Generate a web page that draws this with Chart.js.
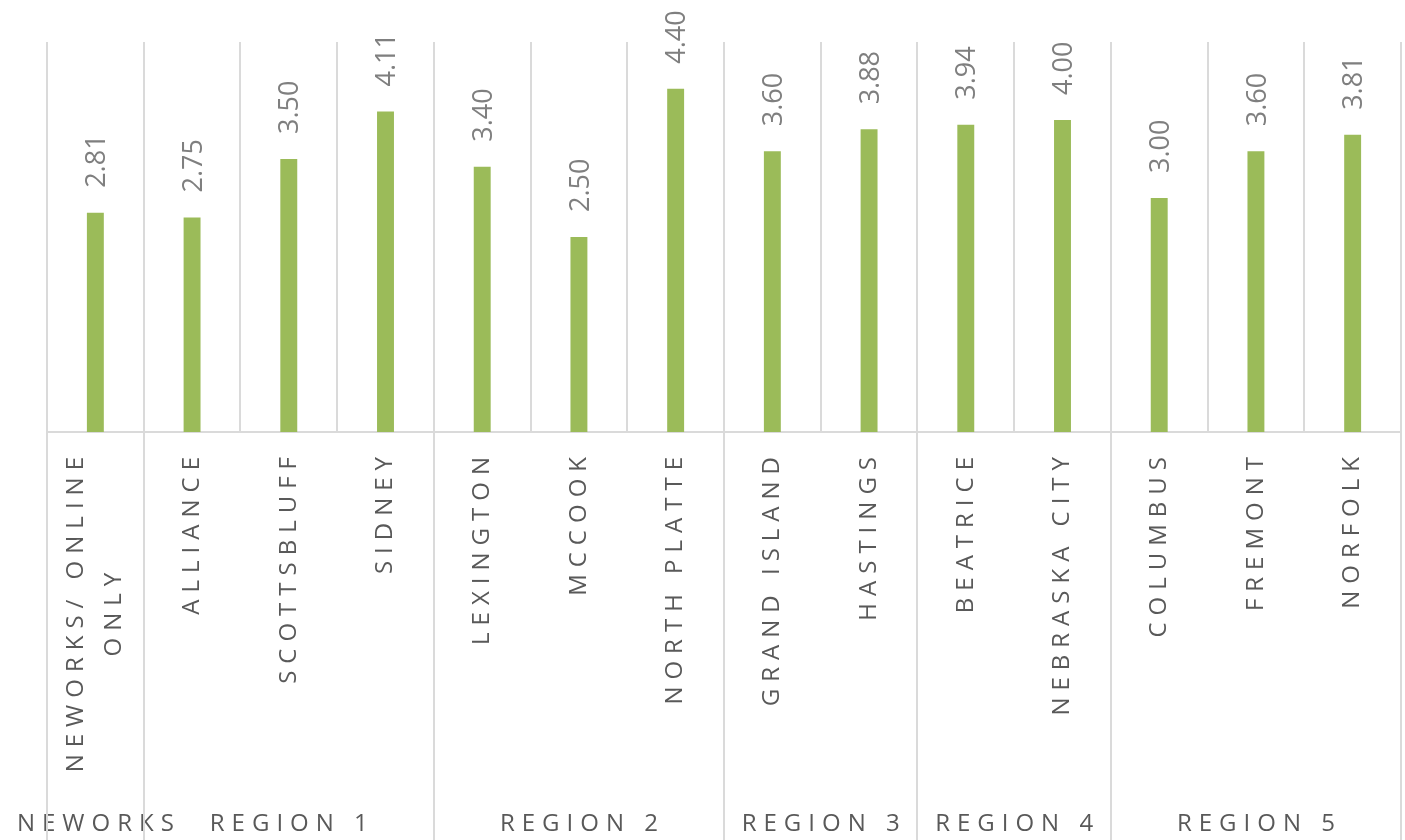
<!DOCTYPE html>
<html>
<head>
<meta charset="utf-8">
<script src="https://cdn.jsdelivr.net/npm/chart.js@4/dist/chart.umd.min.js"></script>
<style>
  html, body { margin:0; padding:0; background:#fff; }
  canvas { display:block; }
</style>
</head>
<body>
<canvas id="chart-sites" width="1405" height="840"></canvas>
<script>
// ─── DATA ─────────────────────────────────────────────────────────────────────
const sites = [
  ['NEWORKS/ ONLINE', 'ONLY'], 'ALLIANCE', 'SCOTTSBLUFF', 'SIDNEY',
  'LEXINGTON', 'MCCOOK', 'NORTH PLATTE',
  'GRAND ISLAND', 'HASTINGS',
  'BEATRICE', 'NEBRASKA CITY',
  'COLUMBUS', 'FREMONT', 'NORFOLK'
];
const scores = [2.81, 2.75, 3.50, 4.11, 3.40, 2.50, 4.40, 3.60, 3.88, 3.94, 4.00, 3.00, 3.60, 3.81];
const regions = ['NEWORKS', 'REGION 1', 'REGION 2', 'REGION 3', 'REGION 4', 'REGION 5'];
const regionSizes = [1, 3, 3, 2, 2, 3];

// ─── STYLE ────────────────────────────────────────────────────────────────────
const GRID = '#dadada';
const LABEL_FONT = '24px "Open Sans", sans-serif';
const LABEL_COLOR = '#595959';
const LS = 7;

// labels, region dividers and region names drawn under the axis
const siteLabels = {
  id: 'siteLabels',
  afterDatasetsDraw(chart) {
    const { ctx, chartArea } = chart;
    const x = chart.scales.x, y = chart.scales.y;
    const meta = chart.getDatasetMeta(0);
    const half = (x.getPixelForValue(1) - x.getPixelForValue(0)) / 2;
    ctx.save();

    // value labels, rotated above each bar
    ctx.font = '27px "Open Sans", sans-serif';
    ctx.fillStyle = '#7f7f7f';
    ctx.letterSpacing = '0px';
    ctx.textAlign = 'left';
    ctx.textBaseline = 'middle';
    meta.data.forEach((bar, i) => {
      ctx.save();
      ctx.translate(bar.x + 2, y.getPixelForValue(scores[i]) - 25);
      ctx.rotate(-Math.PI / 2);
      ctx.fillText(scores[i].toFixed(2), 0, 0);
      ctx.restore();
    });

    // category labels, rotated, right end at the top
    ctx.font = LABEL_FONT;
    ctx.fillStyle = LABEL_COLOR;
    ctx.letterSpacing = LS + 'px';
    ctx.textAlign = 'center';
    const top = chartArea.bottom + 25;
    sites.forEach((lab, i) => {
      const lines = Array.isArray(lab) ? lab : [lab];
      const widths = lines.map(l => ctx.measureText(l).width - LS);
      const w = Math.max(...widths);
      const cx = x.getPixelForValue(i);
      lines.forEach((l, j) => {
        const off = (j - (lines.length - 1) / 2) * 38;
        ctx.save();
        ctx.translate(cx + off, top + w / 2);
        ctx.rotate(-Math.PI / 2);
        ctx.fillText(l, LS / 2, 0);
        ctx.restore();
      });
    });

    // region dividers + names
    ctx.strokeStyle = GRID;
    ctx.lineWidth = 2;
    let start = 0;
    const edges = [chartArea.left];
    regionSizes.forEach((n, r) => {
      const end = start + n - 1;
      const left = x.getPixelForValue(start) - half;
      const right = x.getPixelForValue(end) + half;
      edges.push(right);
      ctx.fillText(regions[r], (left + right) / 2 + LS / 2, 824);
      start += n;
    });
    edges.forEach(px => {
      const p = Math.round(px);
      ctx.beginPath();
      ctx.moveTo(p, chartArea.bottom);
      ctx.lineTo(p, chart.height);
      ctx.stroke();
    });
    ctx.restore();
  }
};

new Chart(document.getElementById('chart-sites'), {
  type: 'bar',
  data: { labels: sites, datasets: [{
    data: scores,
    backgroundColor: '#9bbb59',
    borderWidth: 0,
    barPercentage: 0.175,
    categoryPercentage: 1
  }]},
  options: {
    responsive: false, animation: false, devicePixelRatio: 1,
    layout: { padding: { left: 47, right: 4, top: 42, bottom: 408 } },
    plugins: { legend: { display: false }, tooltip: { enabled: false } },
    scales: {
      x: {
        grid: { color: GRID, lineWidth: 2, offset: true, drawTicks: false },
        border: { color: GRID, width: 2 },
        ticks: { display: false }
      },
      y: { min: 0, max: 5, display: false }
    }
  },
  plugins: [siteLabels]
});
</script>
</body>
</html>
